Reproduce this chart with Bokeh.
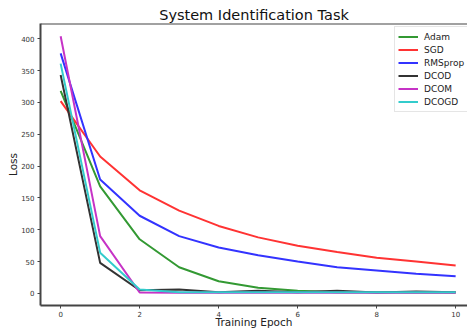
from bokeh.plotting import figure
from bokeh.models import Range1d, Legend, LegendItem, FixedTicker, Span
from bokeh.embed import file_html
from bokeh.resources import INLINE

epochs = [0, 1, 2, 3, 4, 5, 6, 7, 8, 9, 10]
adam = [318, 168, 85, 41, 19, 9, 4, 2, 2, 1.5, 1.5]
sgd = [302, 215, 162, 130, 106, 88, 75, 65, 56, 50, 44]
rmsprop = [377, 179, 122, 90, 72, 60, 50, 41, 36, 31, 27]
dcod = [343, 48, 5, 6, 2, 4, 2, 4, 1.5, 3, 2]
dcom = [404, 90, 1.5, 1, 1, 1, 1, 1, 1, 1, 1]
dcogd = [361, 64, 6, 2, 2, 2, 2, 2, 2, 2, 2]

names = ["Adam", "SGD", "RMSprop", "DCOD", "DCOM", "DCOGD"]
series = [adam, sgd, rmsprop, dcod, dcom, dcogd]
colors = ["#339933", "#ff3333", "#3333ff", "#333333", "#c633c6", "#33cccc"]

x_ticks = [0, 2, 4, 6, 8, 10]
y_ticks = [0, 50, 100, 150, 200, 250, 300, 350, 400]

FONT = "DejaVu Sans"
Y_TOP = 424

p = figure(width=467, height=330, output_backend="svg", toolbar_location=None,
           x_range=Range1d(-0.51, 10.3), y_range=Range1d(-19, Y_TOP),
           min_border_left=40, min_border_right=0, min_border_top=23, min_border_bottom=0)

p.title.text = "System Identification Task"
p.title.align = "center"
p.title.text_font = FONT
p.title.text_font_size = "14.5px"
p.title.text_font_style = "normal"
p.title.text_color = "#111111"
p.title.standoff = 1
p.title.offset = 5

renderers = []
for n, s, c in zip(names, series, colors):
    r = p.line(epochs, s, line_color=c, line_width=2)
    renderers.append((n, r))

p.xgrid.visible = False
p.ygrid.visible = False
p.outline_line_color = None
p.add_layout(Span(location=Y_TOP, dimension="width", line_color="#444444", line_width=2))

for ax in (p.xaxis[0], p.yaxis[0]):
    ax.axis_line_color = "#444444"
    ax.axis_line_width = 2
    ax.major_tick_line_color = "#444444"
    ax.major_tick_line_width = 1
    ax.major_tick_out = 3
    ax.major_tick_in = 0
    ax.minor_tick_line_color = None
    ax.major_label_text_font = FONT
    ax.major_label_text_font_size = "7px"
    ax.major_label_text_color = "#333333"
    ax.axis_label_text_font = FONT
    ax.axis_label_text_font_size = "10.5px"
    ax.axis_label_text_font_style = "normal"
    ax.axis_label_text_color = "#222222"

p.yaxis.major_label_standoff = 3
p.yaxis.axis_label_standoff = -1
p.xaxis.major_label_standoff = 2
p.xaxis.axis_label_standoff = -4
p.xaxis.axis_label = "Training Epoch"
p.yaxis.axis_label = "Loss"
p.xaxis.ticker = FixedTicker(ticks=x_ticks)
p.yaxis.ticker = FixedTicker(ticks=y_ticks)

legend = Legend(items=[LegendItem(label=n, renderers=[r]) for n, r in renderers],
                location=(354, 193))
legend.label_text_font = FONT
legend.label_text_font_size = "9px"
legend.label_text_color = "#222222"
legend.glyph_width = 20
legend.glyph_height = 13
legend.label_height = 13
legend.label_standoff = 6
legend.spacing = 0
legend.padding = 3
legend.margin = 0
legend.border_line_color = "#cccccc"
legend.border_line_width = 1
legend.background_fill_alpha = 0.9
p.add_layout(legend)

open("out.html", "w").write(file_html(p, INLINE))
